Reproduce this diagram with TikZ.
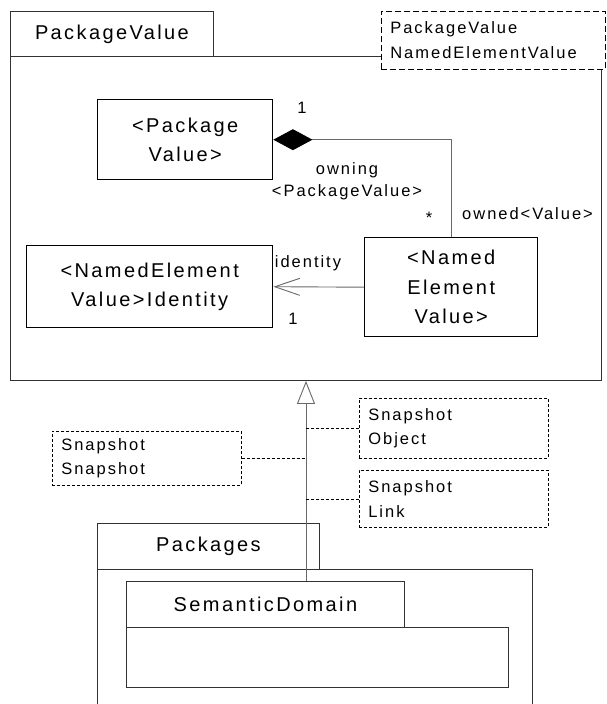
\documentclass[tikz,border=0pt]{standalone}
\usepackage{fontspec}
\usepackage{xcolor}
\usepackage{tikz}
\usetikzlibrary{arrows.meta}
\newfontfamily\umlfont{Liberation Sans}[LetterSpace=12]
\newcommand\boxfont{\umlfont\fontsize{20}{29.5}\selectfont}
\newcommand\notefont{\umlfont\fontsize{16.5}{24.5}\selectfont}
\newcommand\labfont{\umlfont\fontsize{16.5}{22}\selectfont}
\definecolor{pkgline}{RGB}{50, 50, 50}
\definecolor{linkgray}{RGB}{105, 105, 105}

\begin{document}
\begin{tikzpicture}[x=1pt,y=-1pt,
  pkg/.style={draw=pkgline,line width=0.9pt,fill=white,inner sep=0pt,anchor=north west,font=\boxfont},
  cls/.style={draw=black,line width=1.4pt,fill=white,inner sep=0pt,anchor=north west,align=center,font=\boxfont},
  note/.style={draw=black,line width=0.7pt,dash pattern=on 3pt off 2pt,fill=white,inner xsep=9pt,inner ysep=0pt,anchor=north west,align=left,font=\notefont},
  lab/.style={inner sep=0pt,font=\labfont},
  link/.style={draw=linkgray,line width=0.9pt},
  tie/.style={draw=black,line width=0.7pt,dash pattern=on 3pt off 2pt}]
\useasboundingbox[fill=white] (0,0) rectangle (607,704);
\node[pkg,minimum width=591pt,minimum height=324pt] (pvbody) at (10,56) {};
\node[pkg,minimum width=203pt,minimum height=45pt] (pvtab) at (10,11) {PackageValue};
\node[note,dash pattern=on 6pt off 3pt,text width=206pt,minimum height=58pt] (pvnote) at (381,11) {PackageValue\\NamedElementValue};
\node[cls,minimum width=175pt,minimum height=80pt] (pkgval) at (97,99) {<Package\\Value>};
\node[cls,minimum width=173pt,minimum height=99pt] (nev) at (364,237) {<Named\\Element\\Value>};
\node[cls,minimum width=246pt,minimum height=82pt] (nei) at (26,245) {<NamedElement\\Value>Identity};
\draw[link,{Diamond[length=39pt,width=21pt,color=black]}-] (pkgval.east) -| (nev.north);
\draw[link,-{Straight Barb[length=25pt,width=17pt]}] (nev.west) -- (nei.east);
\node[lab] (ownone) at (302,108) {1};
\node[lab,align=center] (owning) at (347,181) {owning\\<PackageValue>};
\node[lab] (ownmany) at (429,218) {*};
\node[lab,anchor=west] (owned) at (462,214) {owned<Value>};
\node[lab] (ident) at (308,263) {identity};
\node[lab] (identone) at (293,319) {1};
\node[pkg,minimum width=435pt,minimum height=150pt] (pkgbody) at (97,569) {};
\node[pkg,minimum width=222pt,minimum height=46pt] (pkgtab) at (97,523) {Packages};
\node[pkg,minimum width=382pt,minimum height=60pt] (sdbody) at (126,627) {};
\node[pkg,minimum width=278pt,minimum height=46pt] (sdtab) at (126,581) {SemanticDomain};
\coordinate (gen) at (306,0);
\draw[link,-{Triangle[open,length=23pt,width=18pt,fill=white]}] (sdtab.north -| gen) -- (pvbody.south -| gen);
\node[note,text width=171pt,minimum height=60pt] (snobj) at (359,398) {Snapshot\\Object};
\node[note,text width=171pt,minimum height=54pt] (snsnap) at (52,431) {Snapshot\\Snapshot};
\node[note,text width=171pt,minimum height=57pt] (snlink) at (359,470) {Snapshot\\Link};
\draw[tie] (snobj.west) -- (snobj.west -| gen);
\draw[tie] (snsnap.east) -- (snsnap.east -| gen);
\draw[tie] (snlink.west) -- (snlink.west -| gen);
\end{tikzpicture}
\end{document}
